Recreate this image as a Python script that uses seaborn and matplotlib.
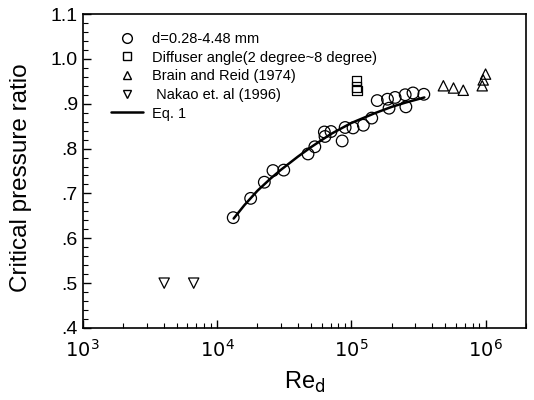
import numpy as np
import pandas as pd
import seaborn as sns
from matplotlib import pyplot as plt
from matplotlib.lines import Line2D
from matplotlib.ticker import LogLocator, FixedLocator, FuncFormatter

sns.set_theme(style="ticks")
plt.rcParams['font.family'] = ['Liberation Sans', 'DejaVu Sans']
plt.rcParams['text.color'] = 'black'
plt.rcParams['axes.labelcolor'] = 'black'

# d=0.28-4.48 mm
circ_re = [1.32e4, 1.78e4, 2.25e4, 2.61e4, 3.14e4, 4.76e4, 5.35e4, 6.3e4, 6.37e4, 7.06e4,
           8.55e4, 9.0e4, 1.03e5, 1.23e5, 1.42e5, 1.56e5, 1.86e5, 1.91e5, 2.12e5, 2.52e5,
           2.55e5, 2.88e5, 3.47e5]
circ_p = [0.646, 0.689, 0.725, 0.751, 0.752, 0.788, 0.804, 0.837, 0.827, 0.838,
          0.817, 0.847, 0.846, 0.852, 0.868, 0.907, 0.910, 0.890, 0.914, 0.920,
          0.893, 0.924, 0.921]
# diffuser angle
sq_re = [1.09e5, 1.09e5, 1.1e5]
sq_p = [0.951, 0.937, 0.929]
# Brain and Reid (1974)
up_re = [4.85e5, 5.77e5, 6.82e5, 9.44e5, 9.6e5, 1.0e6]
up_p = [0.940, 0.935, 0.930, 0.940, 0.953, 0.966]
# Nakao et. al (1996)
dn_re = [4.04e3, 6.7e3]
dn_p = [0.5, 0.5]
# Eq. 1 curve
eq_re = [1.33e4, 1.6e4, 2e4, 2.5e4, 3e4, 4e4, 5e4, 7e4, 1e5, 1.5e5, 2e5, 2.5e5, 3.5e5]
eq_p = [0.644, 0.674, 0.706, 0.733, 0.753, 0.782, 0.803, 0.832, 0.857, 0.879, 0.893, 0.902, 0.914]

fig = plt.figure(figsize=(5.34, 4.0), dpi=100)
ax = fig.add_axes([0.155, 0.18, 0.83, 0.785])

sns.lineplot(x=eq_re, y=eq_p, ax=ax, color='black', linewidth=1.8)
sns.scatterplot(x=circ_re, y=circ_p, ax=ax, marker='o', s=70, facecolor='none',
                edgecolor='black', linewidth=0.9)
sns.scatterplot(x=sq_re, y=sq_p, ax=ax, marker='s', s=45, facecolor='none',
                edgecolor='black', linewidth=0.9)
sns.scatterplot(x=up_re, y=up_p, ax=ax, marker='^', s=55, facecolor='none',
                edgecolor='black', linewidth=0.9)
sns.scatterplot(x=dn_re, y=dn_p, ax=ax, marker='v', s=55, facecolor='none',
                edgecolor='black', linewidth=0.9)

ax.set_xscale('log')
ax.set_xlim(1e3, 2e6)
ax.set_ylim(0.4, 1.1)
ax.xaxis.set_major_locator(FixedLocator([1e3, 1e4, 1e5, 1e6]))
ax.xaxis.set_minor_locator(LogLocator(base=10, subs=np.arange(2, 10)))
ax.xaxis.set_major_formatter(FuncFormatter(lambda v, p: r'$10^{%d}$' % round(np.log10(v))))
ax.yaxis.set_major_locator(FixedLocator(np.arange(0.4, 1.101, 0.1)))
ax.yaxis.set_minor_locator(FixedLocator(np.arange(0.4, 1.101, 0.02)))
ax.yaxis.set_major_formatter(FuncFormatter(lambda v, p: ('%.1f' % v).lstrip('0') if v < 1 else '%.1f' % v))

ax.tick_params(which='both', direction='in', colors='black', labelsize=14)
ax.tick_params(which='major', length=6, width=1)
ax.tick_params(which='minor', length=3.5, width=0.8)
ax.tick_params(axis='x', pad=8)
for s in ax.spines.values():
    s.set_color('black')
    s.set_linewidth(1.2)

ax.set_xlabel(r'Re$_\mathrm{d}$', fontsize=17, labelpad=6)
ax.set_ylabel('Critical pressure ratio', fontsize=17.5)
ax.yaxis.set_label_coords(-0.115, 0.48)

handles = [
    Line2D([], [], marker='o', ls='none', mfc='none', mec='black', ms=7),
    Line2D([], [], marker='s', ls='none', mfc='none', mec='black', ms=6),
    Line2D([], [], marker='^', ls='none', mfc='none', mec='black', ms=6),
    Line2D([], [], marker='v', ls='none', mfc='none', mec='black', ms=6),
    Line2D([], [], color='black', lw=1.8),
]
labels = ['d=0.28-4.48 mm', 'Diffuser angle(2 degree~8 degree)', 'Brain and Reid (1974)',
          ' Nakao et. al (1996)', 'Eq. 1']
ax.legend(handles, labels, loc='upper left', bbox_to_anchor=(0.035, 0.985), frameon=False,
          fontsize=10.5, handlelength=2.2, handletextpad=0.6, labelspacing=0.32)

plt.savefig('out.png', dpi=100)
plt.close()
